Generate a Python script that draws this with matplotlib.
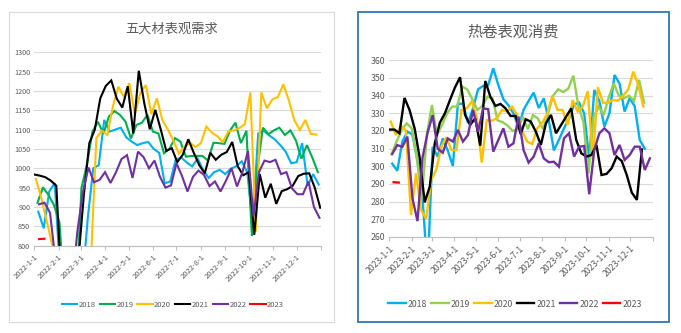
import matplotlib
matplotlib.use("Agg")
import matplotlib.pyplot as plt
import numpy as np
from matplotlib.patches import Rectangle

plt.rcParams['font.family'] = ['Noto Sans CJK SC', 'DejaVu Sans']

# ============================================================
# data (weekly values)
# ============================================================

years = ["2018", "2019", "2020", "2021", "2022", "2023"]

colors_left = ["#00B0F0", "#00B050", "#FFC000", "#000000", "#7030A0", "#FF0000"]
colors_right = ["#00B0F0", "#92D050", "#FFC000", "#000000", "#7030A0", "#FF0000"]

# day offset of the first weekly point of each year
left_start = [5, 4, 2, 0, 6, 6]
right_start = [4, 3, 2, 0, 4, 6]

# 五大材表观需求
left_2018 = [888, 845, 940, 962, 720, 600, 600, 600, 700, 870, 1000, 1008, 1125, 1095, 1100, 1105,
             1080, 1069, 1060, 1065, 1068, 1050, 1040, 961, 966, 1022, 1028, 1015, 1005, 1025, 995,
             975, 990, 996, 985, 999, 1005, 1018, 990, 860, 1090, 1097, 1085, 1075, 1060, 1043,
             1013, 1016, 1065, 955, 985, 958]
left_2019 = [911, 951, 931, 905, 860, 650, 600, 650, 949, 1010, 1095, 1120, 1090, 1134, 1148, 1138,
             1121, 1077, 1112, 1118, 1138, 1095, 1090, 1039, 1050, 1078, 1069, 1030, 1032, 1032,
             1032, 1020, 1066, 1065, 1063, 1097, 1118, 1065, 1097, 825, 1000, 1105, 1088, 1098,
             1105, 1086, 1098, 1072, 1025, 1060, 1027, 990]
left_2020 = [972, 922, 862, 800, 700, 620, 600, 600, 600, 620, 760, 1078, 1097, 1086, 1160, 1211,
             1185, 1220, 1140, 1195, 1215, 1140, 1181, 1125, 1100, 1072, 1038, 1055, 1066, 1055,
             1065, 1108, 1092, 1083, 1068, 1095, 1098, 1104, 1114, 1196, 836, 1196, 1155, 1178,
             1184, 1217, 1176, 1124, 1099, 1125, 1089, 1087]
left_2021 = [984, 981, 977, 968, 955, 680, 620, 620, 760, 930, 1065, 1100, 1181, 1213, 1227, 1180,
             1157, 1212, 1090, 1252, 1168, 1101, 1151, 1100, 1045, 1052, 1016, 1035, 1075, 1040,
             1008, 987, 1040, 1022, 1035, 1042, 1068, 1005, 982, 990, 828, 985, 924, 960, 908, 941,
             946, 955, 980, 986, 987, 950, 898]
left_2022 = [907, 911, 885, 760, 650, 600, 700, 840, 940, 1002, 964, 970, 990, 962, 990, 1024,
             1034, 975, 1043, 1029, 1000, 1020, 978, 950, 956, 1013, 980, 940, 978, 994, 983, 954,
             966, 940, 968, 1000, 953, 990, 1045, 875, 990, 1020, 1016, 1022, 985, 990, 948, 933,
             933, 966, 900, 872]
left_2023 = [817, 818]

# 热卷表观消费
right_2018 = [301.5, 297.5, 314, 319.6, 318, 303, 282, 240, 311, 305.5, 315.8, 308.9, 300.2, 335.3,
              335.5, 324.5, 333, 343.6, 345.5, 346, 355.5, 346, 338, 334.5, 330, 322, 332, 337,
              341.7, 333, 338.5, 326, 309, 315, 321.5, 327, 335, 336, 330, 304, 343.2, 337, 322.5,
              330, 351.7, 346.8, 331, 338.5, 334, 314.9, 310]
right_2019 = [306.8, 314, 320.6, 324.3, 321.5, 305, 282, 318, 334.7, 317.7, 323.4, 330, 333.8,
              333.8, 345.1, 343.5, 338, 331.9, 334.2, 339.4, 338.5, 326, 325, 323, 320, 321, 328,
              321, 329, 327, 321, 330, 340, 343.6, 342, 344, 351.3, 334, 325, 296, 328, 333.8, 329,
              339, 347, 340, 338.5, 340, 337, 348.9, 336]
right_2020 = [325.3, 317.7, 322.8, 320.2, 272.5, 296, 275.3, 270.2, 292.3, 298, 311.1, 316.4, 309.2,
              309.2, 331.9, 332.8, 336.6, 328.1, 302.1, 326.2, 325.8, 327.2, 331.9, 331, 333.8,
              329.1, 320, 314, 312.6, 321.5, 324.7, 330, 340, 331.9, 331.9, 323.4, 337.5, 331,
              333.8, 342.5, 304, 344.7, 336, 336, 337.5, 337.2, 340, 343.5, 353.6, 346, 333.8]
right_2021 = [320.8, 320.8, 318.7, 338.7, 331.9, 321.5, 305, 279.6, 288.5, 313, 324.7, 330, 337.5,
              344.7, 350.4, 329, 323.4, 327.2, 311.7, 348.3, 339.4, 334.2, 335.3, 332.8, 328.5,
              328.5, 318.3, 326.6, 325.3, 319.6, 312.1, 324.3, 329.1, 318.7, 323.4, 328.1, 332.8,
              314.9, 307.4, 305.5, 306.4, 312.1, 295.1, 295.7, 298.9, 305.5, 303, 295.1, 285.1,
              281, 309.6]
right_2022 = [307, 312, 311, 316.8, 282, 269, 305, 319, 329, 310, 307.7, 315.8, 314, 320.6, 314,
              317.7, 331.9, 319.6, 332.8, 332.3, 308.3, 314.9, 321.5, 311.1, 313, 328.1, 309.2,
              302.1, 305.5, 313, 304.5, 302.3, 302.6, 299.8, 315.8, 318.7, 305.5, 311.1, 311.5,
              284.2, 309.2, 318.7, 321.5, 318.7, 306.4, 312.1, 303.6, 306.4, 311.1, 311.1, 297.9,
              304.5]
right_2023 = [291, 290.8]

left_series = [left_2018, left_2019, left_2020, left_2021, left_2022, left_2023]
right_series = [right_2018, right_2019, right_2020, right_2021, right_2022, right_2023]


# ============================================================
# drawing
# ============================================================

def weekly_dates(year, start, n):
    return np.datetime64(f"{year}-01-01") + start + 7 * np.arange(n)


def draw_panel(ax, year, series, starts, colors, yticks, lw):
    for name, vals, st, c in zip(years, series, starts, colors):
        ax.plot(weekly_dates(year, st, len(vals)), vals, color=c, lw=lw,
                label=name, solid_joinstyle="miter")

    ax.set_xlim(np.datetime64(f"{year}-01-01"), np.datetime64(f"{year + 1}-01-01"))
    ax.set_ylim(yticks[0], yticks[-1])
    ax.set_yticks(yticks)

    month_ticks = [np.datetime64(f"{year}-{m:02d}-01") for m in range(1, 13)]
    month_ticks.append(np.datetime64(f"{year + 1}-01-01"))
    ax.set_xticks(month_ticks)
    ax.set_xticklabels([f"{year}-{m}-1" for m in range(1, 13)] + [""])

    ax.grid(axis="y", color="#D9D9D9", lw=0.8)
    ax.set_axisbelow(True)
    for s in ["left", "right", "top"]:
        ax.spines[s].set_visible(False)
    ax.spines["bottom"].set_color("#BFBFBF")
    ax.spines["bottom"].set_linewidth(0.8)
    ax.tick_params(axis="y", length=0, colors="#595959", pad=3)
    ax.tick_params(axis="x", length=3, color="#BFBFBF", width=0.8, labelcolor="#595959")
    for lab in ax.get_xticklabels():
        lab.set_rotation(45)
        lab.set_ha("right")
        lab.set_va("top")
        lab.set_rotation_mode("anchor")


fig = plt.figure(figsize=(6.81, 3.33), dpi=100)

# panel frames
fig.patches.append(Rectangle((0.0137, 0.034), 0.4768, 0.931, transform=fig.transFigure,
                             fill=False, ec="#D9D9D9", lw=0.8))
fig.patches.append(Rectangle((0.5262, 0.0321), 0.4567, 0.931, transform=fig.transFigure,
                             fill=False, ec="#2E75B6", lw=1.3))

ax1 = fig.add_axes([0.0504, 0.2622, 0.421, 0.581])
draw_panel(ax1, 2022, left_series, left_start, colors_left, list(range(800, 1301, 50)), 1.5)
ax1.tick_params(axis="y", labelsize=5.2)
ax1.tick_params(axis="x", labelsize=5.5, pad=2)
ax1.legend(loc="center", bbox_to_anchor=(0.254, 0.084), bbox_transform=fig.transFigure,
           ncol=6, frameon=False, fontsize=5.5, handlelength=2.0, handletextpad=0.2,
           columnspacing=0.5, labelcolor="#595959")

ax2 = fig.add_axes([0.5717, 0.2883, 0.3868, 0.5306])
draw_panel(ax2, 2023, right_series, right_start, colors_right, list(range(260, 361, 10)), 1.7)
ax2.tick_params(axis="y", labelsize=6.3)
ax2.tick_params(axis="x", labelsize=6.3, pad=2)
ax2.legend(loc="center", bbox_to_anchor=(0.756, 0.087), bbox_transform=fig.transFigure,
           ncol=6, frameon=False, fontsize=6.3, handlelength=2.0, handletextpad=0.2,
           columnspacing=0.5, labelcolor="#595959")

fig.text(172 / 681, 1 - 29 / 333, "五大材表观需求", ha="center", va="center",
         fontsize=9.5, color="#595959")
fig.text(513 / 681, 1 - 32 / 333, "热卷表观消费", ha="center", va="center",
         fontsize=11, color="#595959")

fig.savefig("out.png", dpi=100)
